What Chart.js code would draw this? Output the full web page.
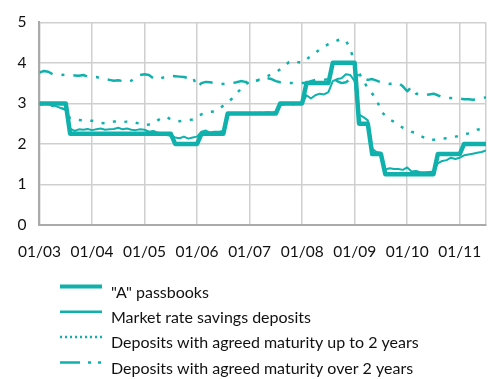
<!DOCTYPE html>
<html>
<head>
<meta charset="utf-8">
<script src="https://cdn.jsdelivr.net/npm/chart.js@4.4.1/dist/chart.umd.min.js"></script>
<style>
  html, body { margin: 0; padding: 0; background: #fff; }
  #wrap { position: relative; width: 504px; height: 379px; }
</style>
</head>
<body>
<div id="wrap"><canvas id="rates"></canvas></div>
<script>
// monthly series, Jan 2003 (index 0) to Jul 2011 (index 102)
const yearTicks = ['01/03', '01/04', '01/05', '01/06', '01/07', '01/08', '01/09', '01/10', '01/11'];
const lastMonth = 102;

const passbookA = [
  3.0, 3.0, 3.0, 3.0, 3.0, 3.0, 3.0,
  2.25, 2.25, 2.25, 2.25, 2.25, 2.25, 2.25, 2.25, 2.25, 2.25, 2.25, 2.25,
  2.25, 2.25, 2.25, 2.25, 2.25, 2.25, 2.25, 2.25, 2.25, 2.25, 2.25, 2.25,
  2.0, 2.0, 2.0, 2.0, 2.0, 2.0,
  2.25, 2.25, 2.25, 2.25, 2.25, 2.25,
  2.75, 2.75, 2.75, 2.75, 2.75, 2.75, 2.75, 2.75, 2.75, 2.75, 2.75, 2.75,
  3.0, 3.0, 3.0, 3.0, 3.0, 3.0,
  3.5, 3.5, 3.5, 3.5, 3.5, 3.5,
  4.0, 4.0, 4.0, 4.0, 4.0, 4.0,
  2.5, 2.5, 2.5,
  1.75, 1.75, 1.75,
  1.25, 1.25, 1.25, 1.25, 1.25, 1.25, 1.25, 1.25, 1.25, 1.25, 1.25, 1.25,
  1.75, 1.75, 1.75, 1.75, 1.75, 1.75,
  2.0, 2.0, 2.0, 2.0, 2.0, 2.0
];

const marketSavings = [
  3.0, 3.0, 2.98, 2.95, 2.92, 2.88, 2.84,
  2.38, 2.32, 2.36, 2.35, 2.37, 2.34, 2.36, 2.38, 2.35, 2.36, 2.37, 2.4,
  2.36, 2.38, 2.35, 2.34, 2.36, 2.35, 2.3, 2.32, 2.28, 2.25, 2.22, 2.2,
  2.16, 2.14, 2.18, 2.13, 2.16, 2.18,
  2.3, 2.33, 2.28, 2.3, 2.3, 2.32,
  2.72, 2.75, 2.76, 2.75, 2.73, 2.76, 2.75, 2.77, 2.76, 2.78, 2.77, 2.79,
  2.95, 2.98, 3.0, 2.97, 3.0, 2.99,
  3.2, 3.12, 3.2, 3.24, 3.22, 3.28,
  3.55, 3.6, 3.62, 3.72, 3.7, 3.55,
  2.72, 2.66, 2.58,
  1.88, 1.8, 1.78,
  1.37, 1.4, 1.38, 1.38, 1.36, 1.42, 1.32, 1.33, 1.3, 1.3, 1.31, 1.32,
  1.52, 1.58, 1.6, 1.66, 1.63, 1.66,
  1.72, 1.74, 1.76, 1.78, 1.8, 1.84
];

const upTo2Years = [
  2.98, 2.97, 2.96, 2.94, 2.92, 2.88, 2.85,
  2.62, 2.6, 2.59, 2.58, 2.58, 2.57, 2.55, 2.52, 2.51, 2.53, 2.55, 2.55,
  2.54, 2.55, 2.55, 2.52, 2.5, 2.47, 2.48, 2.5, 2.58, 2.65, 2.67, 2.6,
  2.57, 2.56, 2.58, 2.59, 2.6, 2.68,
  2.73, 2.76, 2.79, 2.8, 2.85, 2.95,
  3.03, 3.12, 3.24, 3.36, 3.46, 3.54, 3.56, 3.58, 3.62, 3.67, 3.72, 3.76,
  3.84, 3.92, 4.02, 4.05, 4.02, 4.0,
  4.08, 4.18, 4.24, 4.33, 4.4, 4.46,
  4.5, 4.55, 4.59, 4.55, 4.34, 4.0,
  3.75, 3.55, 3.38,
  3.24, 3.11, 2.8,
  2.7, 2.6, 2.55, 2.47, 2.4, 2.35, 2.3, 2.27, 2.2, 2.15, 2.1, 2.1,
  2.12, 2.13, 2.14, 2.16, 2.18, 2.2,
  2.23, 2.26, 2.3, 2.35, 2.37, 2.38
];

const over2Years = [
  3.76, 3.8, 3.78, 3.72, 3.7, 3.7, 3.71,
  3.7, 3.69, 3.68, 3.7, 3.66, 3.66, 3.65, 3.62, 3.6, 3.58, 3.56, 3.57,
  3.55, 3.52, 3.56, 3.66, 3.7, 3.72, 3.7, 3.62, 3.58, 3.63, 3.66, 3.68,
  3.67, 3.66, 3.65, 3.62, 3.66, 3.4,
  3.5, 3.53, 3.52, 3.5, 3.49, 3.48,
  3.48, 3.5, 3.52, 3.55, 3.53, 3.52, 3.55, 3.57, 3.58, 3.62, 3.6, 3.55,
  3.52, 3.52, 3.5, 3.5, 3.5, 3.5,
  3.5, 3.55, 3.58, 3.56, 3.58, 3.6,
  3.6, 3.55, 3.5, 3.52, 3.6, 3.68,
  3.7, 3.62, 3.58,
  3.6, 3.56, 3.52,
  3.5, 3.48, 3.5, 3.5, 3.42, 3.3, 3.4, 3.24, 3.22, 3.2, 3.22, 3.24,
  3.2, 3.15, 3.14, 3.13, 3.12, 3.12,
  3.1, 3.1, 3.09, 3.1, 3.12, 3.15
];

const teal = '#10b1ac';
const fontFamily = 'Lato, "Noto Sans", sans-serif';

const toPoints = (values) => values.map((v, i) => ({ x: i, y: v }));

// legend drawn as one row per series under the plot
const rowLegend = {
  id: 'rowLegend',
  afterDraw(chart, args, opts) {
    const ctx = chart.ctx;
    ctx.save();
    ctx.font = `${opts.fontSize}px ${fontFamily}`;
    ctx.textBaseline = 'middle';
    chart.data.datasets.forEach((ds, i) => {
      const y = opts.top + i * opts.rowHeight;
      ctx.beginPath();
      ctx.strokeStyle = ds.borderColor;
      ctx.lineWidth = ds.legendWidth;
      ctx.lineCap = 'butt';
      ctx.setLineDash(ds.legendDash);
      ctx.moveTo(opts.left, y - 6);
      ctx.lineTo(opts.left + opts.lineLength, y - 6);
      ctx.stroke();
      ctx.setLineDash([]);
      ctx.fillStyle = '#111';
      ctx.fillText(ds.label, opts.textLeft, y);
    });
    ctx.restore();
  }
};

const datasets = [
  {
    label: '"A" passbooks',
    data: toPoints(passbookA),
    borderWidth: 4.5,
    borderDash: [],
    legendWidth: 4,
    legendDash: []
  },
  {
    label: 'Market rate savings deposits',
    data: toPoints(marketSavings),
    borderWidth: 2,
    borderDash: [],
    legendWidth: 2.5,
    legendDash: []
  },
  {
    label: 'Deposits with agreed maturity up to 2 years',
    data: toPoints(upTo2Years),
    borderWidth: 2.5,
    borderDash: [3, 8.5],
    legendWidth: 2.5,
    legendDash: [2, 3]
  },
  {
    label: 'Deposits with agreed maturity over 2 years',
    data: toPoints(over2Years),
    borderWidth: 2.5,
    borderDash: [14, 9, 3, 9],
    legendWidth: 2.5,
    legendDash: [20, 8, 3, 7, 3, 7]
  }
].map((ds) => ({
  ...ds,
  borderColor: teal,
  backgroundColor: teal,
  pointRadius: 0,
  tension: 0,
  fill: false,
  borderJoinStyle: 'round'
}));

new Chart(document.getElementById('rates'), {
  type: 'line',
  data: { datasets },
  plugins: [rowLegend],
  options: {
    responsive: true,
    maintainAspectRatio: false,
    animation: false,
    layout: { padding: { top: 19, right: 4, bottom: 0, left: 0 } },
    plugins: {
      legend: { display: false },
      tooltip: { enabled: false },
      rowLegend: { top: 292.5, rowHeight: 25.3, left: 60, lineLength: 42, textLeft: 111, fontSize: 16 }
    },
    scales: {
      x: {
        type: 'linear',
        min: 0,
        max: lastMonth,
        afterFit(scale) { scale.height = 154; },
        afterBuildTicks(scale) {
          // one tick per January, plus the right-hand edge of the frame
          scale.ticks = yearTicks.map((t, i) => ({ value: i * 12 })).concat([{ value: lastMonth }]);
        },
        grid: { color: '#cfcfcf', lineWidth: 1.5, drawTicks: false },
        border: { color: '#aaaaaa', width: 2 },
        ticks: {
          padding: 18,
          color: '#111',
          maxRotation: 0,
          autoSkip: false,
          font: { family: fontFamily, size: 15.5 },
          callback: (value) => (value % 12 === 0 ? yearTicks[value / 12] : '')
        }
      },
      y: {
        min: 0,
        max: 5,
        afterFit(scale) { scale.width = 35; },
        grid: { color: '#cfcfcf', lineWidth: 1.5, drawTicks: false },
        border: { color: '#aaaaaa', width: 2 },
        ticks: {
          stepSize: 1,
          padding: 13,
          color: '#111',
          font: { family: fontFamily, size: 15.5 }
        }
      }
    }
  }
});
</script>
</body>
</html>
